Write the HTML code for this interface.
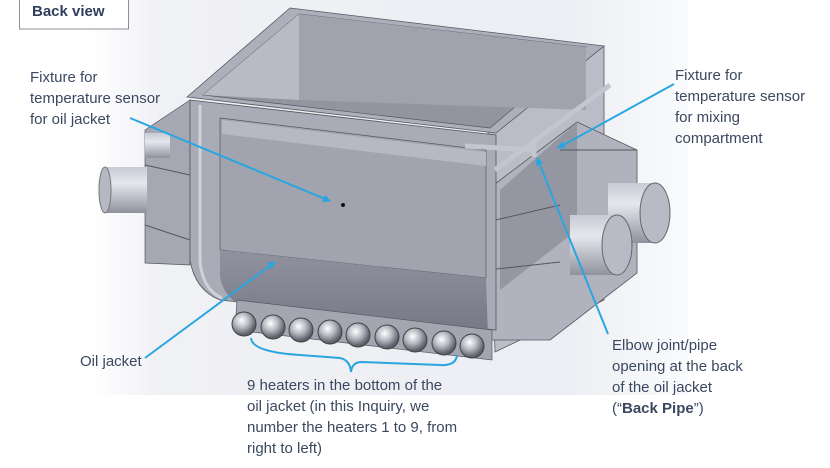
<!DOCTYPE html>
<html><head><meta charset="utf-8"><style>
body{margin:0;width:830px;height:468px;background:#fff;position:relative;overflow:hidden;font-family:"Liberation Sans",sans-serif;}
.t{position:absolute;color:#3a4860;font-size:15px;line-height:21px;white-space:nowrap;}
</style></head><body>
<svg width="830" height="468" style="position:absolute;left:0;top:0">
<defs>
<linearGradient id="bg" x1="0" y1="0" x2="1" y2="0">
<stop offset="0" stop-color="#fff"/><stop offset="0.12" stop-color="#f0f1f5"/><stop offset="0.8" stop-color="#eceef3"/><stop offset="1" stop-color="#fafbfc"/></linearGradient>
<linearGradient id="cyl" x1="0" y1="0" x2="0" y2="1"><stop offset="0" stop-color="#c8cad4"/><stop offset="0.35" stop-color="#e6e7ee"/><stop offset="1" stop-color="#8f919d"/></linearGradient>
<linearGradient id="low" x1="0" y1="0" x2="0" y2="1"><stop offset="0" stop-color="#90929f"/><stop offset="1" stop-color="#757784"/></linearGradient>
<radialGradient id="ht" cx="0.4" cy="0.35" r="0.6"><stop offset="0" stop-color="#fff"/><stop offset="0.5" stop-color="#b8bac3"/><stop offset="1" stop-color="#5c5e68"/></radialGradient>
<marker id="a" markerWidth="8" markerHeight="8" refX="7" refY="4" orient="auto" markerUnits="userSpaceOnUse"><path d="M0,0 L8,4 L0,8 z" fill="#29a6e0"/></marker>
</defs>
<rect x="88" y="0" width="600" height="395" fill="url(#bg)"/>
<polygon points="145,130 190,100 190,265 145,263" fill="#a5a7b3" stroke="#55575f" stroke-width="0.7"/>
<line x1="145" y1="165" x2="190" y2="175" stroke="#55575f"/><line x1="145" y1="225" x2="190" y2="240" stroke="#55575f"/>
<rect x="145" y="133" width="25" height="25" fill="url(#cyl)"/>
<rect x="105" y="167" width="42" height="46" fill="url(#cyl)"/>
<ellipse cx="105" cy="190" rx="6" ry="23" fill="#b6b8c3" stroke="#777"/>
<polygon points="488,132 604,46 604,300 495,352" fill="#babcc7" stroke="#55575f" stroke-width="0.8"/>
<polygon points="487,190 577,122 637,150 637,273 550,340 487,340" fill="#b0b2be" stroke="#55575f" stroke-width="0.8"/>
<polygon points="500,190 577,122 577,230 500,290" fill="#979925" fill-opacity="0"/>
<polygon points="500,190 577,122 577,230 500,290" fill="#9496a2"/>
<line x1="487" y1="222" x2="560" y2="205" stroke="#55575f"/><line x1="487" y1="270" x2="560" y2="262" stroke="#55575f"/>
<line x1="560" y1="150" x2="637" y2="150" stroke="#55575f"/>
<rect x="608" y="183" width="47" height="60" fill="url(#cyl)"/>
<ellipse cx="655" cy="213" rx="15" ry="30" fill="#b8bac6" stroke="#666"/>
<rect x="570" y="215" width="47" height="60" fill="url(#cyl)"/>
<ellipse cx="617" cy="245" rx="15" ry="30" fill="#b8bac6" stroke="#666"/>
<polygon points="187,97 290,8 604,46 496,133" fill="#adafbb" stroke="#55575f" stroke-width="0.8"/>
<polygon points="203,95 299,14 586,47 490,128" fill="#9294a0" stroke="#55575f" stroke-width="0.7"/>
<polygon points="299,14 586,47 586,110 299,100" fill="#a0a2ae"/>
<polygon points="203,95 299,14 299,100" fill="#b8bac5"/>
<path d="M190,100 L496,135 L496,330 L220,300 Q195,290 190,260 Z" fill="#a9abb7" stroke="#55575f" stroke-width="0.8"/>
<polygon points="220,118 486,150 486,278 220,250" fill="#a1a3af" stroke="#55575f" stroke-width="0.7"/>
<polygon points="222,120 486,152 486,166 222,134" fill="#b6b8c4"/>
<path d="M220,250 L486,278 L488,335 L240,305 Q222,295 220,275 Z" fill="url(#low)"/>
<path d="M200,105 L200,262 Q203,290 222,298" fill="none" stroke="#d0d2da" stroke-width="3"/>
<circle cx="343" cy="205" r="2" fill="#111"/>
<line x1="465" y1="146" x2="534" y2="150" stroke="#c3c5cf" stroke-width="5"/>
<line x1="534" y1="140" x2="534" y2="157" stroke="#c3c5cf" stroke-width="5"/>
<line x1="495" y1="170" x2="610" y2="85" stroke="#c3c5cf" stroke-width="5"/>
<polygon points="237,300 492,330 492,360 235,330" fill="#a3a5b1" stroke="#55575f" stroke-width="0.7"/>
<g stroke="#444" stroke-width="1">
<circle cx="244" cy="324" r="12" fill="url(#ht)"/><circle cx="273" cy="327" r="12" fill="url(#ht)"/><circle cx="301" cy="330" r="12" fill="url(#ht)"/><circle cx="330" cy="332" r="12" fill="url(#ht)"/><circle cx="358" cy="335" r="12" fill="url(#ht)"/><circle cx="387" cy="337" r="12" fill="url(#ht)"/><circle cx="415" cy="340" r="12" fill="url(#ht)"/><circle cx="444" cy="343" r="12" fill="url(#ht)"/><circle cx="472" cy="346" r="12" fill="url(#ht)"/>
</g>
<path d="M251,338 Q252,352 300,355 L340,358 Q350,360 351,372 Q352,362 362,362 L440,365 Q456,366 457,355" fill="none" stroke="#29a6e0" stroke-width="2"/>
<g stroke="#29a6e0" stroke-width="2" fill="none">
<line x1="130" y1="118" x2="330" y2="201" marker-end="url(#a)"/>
<line x1="145" y1="358" x2="275" y2="262" marker-end="url(#a)"/>
<line x1="674" y1="84" x2="558" y2="148" marker-end="url(#a)"/>
<line x1="608" y1="334" x2="537" y2="158" marker-end="url(#a)"/>
</g>
<rect x="19.5" y="-1" width="109" height="30" fill="#fff" stroke="#8a8f99" stroke-width="1"/>
</svg>
<div class="t" style="left:32px;top:1px;font-weight:bold;color:#2e3f5c;">Back view</div>
<div class="t" style="left:30px;top:67px;">Fixture for<br>temperature sensor<br>for oil jacket</div>
<div class="t" style="left:675px;top:65px;">Fixture for<br>temperature sensor<br>for mixing<br>compartment</div>
<div class="t" style="left:80px;top:351px;">Oil jacket</div>
<div class="t" style="left:612px;top:335px;">Elbow joint/pipe<br>opening at the back<br>of the oil jacket<br>(“<b>Back Pipe</b>”)</div>
<div class="t" style="left:247px;top:375px;">9 heaters in the bottom of the<br>oil jacket (in this Inquiry, we<br>number the heaters 1 to 9, from<br>right to left)</div>
</body></html>
